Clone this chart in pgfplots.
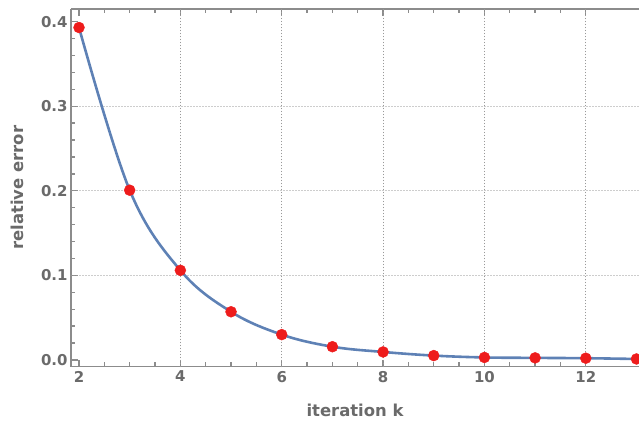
\documentclass[border=0pt]{standalone}
\usepackage{fontspec}
\setmainfont{DejaVu Sans}
\usepackage{pgfplots}
\pgfplotsset{compat=1.18}
\usetikzlibrary{calc}
\definecolor{mmablue}{HTML}{5E81B5}
\definecolor{mmared}{HTML}{EE1C1C}
\definecolor{frame}{HTML}{8C8C8C}
\definecolor{txt}{HTML}{6A6A6A}
\definecolor{gridc}{HTML}{999999}
\begin{document}
\begin{tikzpicture}
\begin{axis}[name=ax,
  scale only axis, width=568bp, height=357.5bp,
  xmin=1.842, xmax=13.05, ymin=-0.0077, ymax=0.4149,
  axis x line*=box, axis y line*=left,
  x axis line style={-}, y axis line style={-},
  axis line style={draw=frame, line width=1.4bp},
  xtick={2,4,...,12}, ytick={0,0.1,0.2,0.3,0.4},
  yticklabels={0.0,0.1,0.2,0.3,0.4},
  xtick pos=both, ytick pos=left,
  minor x tick num=3, minor y tick num=4,
  tick align=inside,
  major tick length=7bp, minor tick length=4.5bp,
  every tick/.style={draw=frame, line width=1.3bp},
  extra x ticks={4,6,8,10,12}, extra x tick labels={},
  extra x tick style={grid=major, major tick length=0pt},
  extra y ticks={0.1,0.2,0.3}, extra y tick labels={},
  extra y tick style={grid=major, major tick length=0pt},
  major grid style={draw=gridc, line width=1.1bp, line cap=round, dash pattern=on 0.1bp off 2.9bp},
  ticklabel style={font=\fontsize{15}{17}\selectfont\bfseries, text=txt},
  /pgf/number format/assume math mode=true,
  xticklabel style={yshift=-1bp},
  xlabel={iteration k}, ylabel={relative error},
  label style={font=\fontsize{16.5}{19}\selectfont\bfseries, text=txt},
  xlabel style={yshift=-15bp},
  ylabel style={yshift=10bp},
  clip=false,
]
\addplot[mmablue, line width=2.6bp, smooth, tension=0.6] coordinates {
(2,0.393) (3,0.2007) (4,0.106) (5,0.057) (6,0.030) (7,0.0157) (8,0.0095) (9,0.0052) (10,0.0030) (11,0.0025) (12,0.0021) (13,0.0012)};
\addplot[only marks, mark=*, mark size=5.5bp, mark options={fill=mmared, draw=mmared}] coordinates {
(2,0.393) (3,0.2007) (4,0.106) (5,0.057) (6,0.030) (7,0.0157) (8,0.0095) (9,0.0052) (10,0.0030) (11,0.0025) (12,0.0021) (13,0.0012)};
\end{axis}
\pgfresetboundingbox
\path[use as bounding box] ($(ax.south west)+(-71bp,-56.5bp)$) rectangle ($(ax.north east)+(0bp,9bp)$);
\end{tikzpicture}
\end{document}
